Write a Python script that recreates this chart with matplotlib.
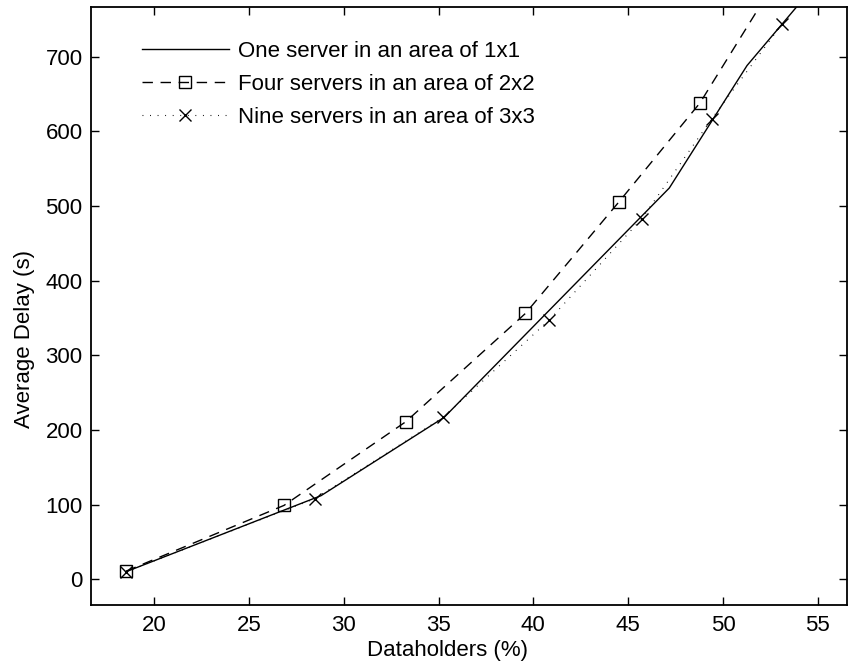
import matplotlib
matplotlib.use('Agg')
import matplotlib.pyplot as plt

plt.rcParams['font.family'] = ['Liberation Sans', 'DejaVu Sans']
plt.rcParams['font.size'] = 16

# Average delay vs. share of dataholders, one curve per server layout
one_x = [18.5, 28.8, 35.3, 47.17, 51.27, 55.0]
one_y = [10, 112, 217, 524, 688, 800]

four_x = [18.52, 26.85, 33.27, 39.58, 44.5, 48.79, 52.5]
four_y = [11, 99, 211, 356, 505, 638, 790]

nine_x = [18.5, 28.47, 35.25, 40.83, 45.72, 49.42, 53.13]
nine_y = [10, 108, 217, 347, 483, 617, 744]

labels = ['One server in an area of 1x1',
          'Four servers in an area of 2x2',
          'Nine servers in an area of 3x3']
xticks = [20, 25, 30, 35, 40, 45, 50, 55]
yticks = [0, 100, 200, 300, 400, 500, 600, 700]

fig = plt.figure(figsize=(8.48, 6.68), dpi=100)
ax = fig.add_axes([0.1073, 0.0936, 0.8917, 0.8955])

ax.plot(one_x, one_y, color='black', lw=1.0, label=labels[0])
l2, = ax.plot(four_x, four_y, color='black', lw=1.0, marker='s', ms=8.6,
              mfc='none', mew=1.0, label=labels[1])
l2.set_dashes((7.5, 5.5))
l3, = ax.plot(nine_x, nine_y, color='black', lw=0.8, marker='x', ms=8.6,
              mew=1.0, label=labels[2])
l3.set_dashes((0.8, 6))

ax.set_xlim(16.67, 56.55)
ax.set_ylim(-35, 766)
ax.set_xticks(xticks)
ax.set_yticks(yticks)
ax.tick_params(direction='in', length=6, width=1.0, top=True, right=True)
ax.tick_params(axis='x', pad=7)
ax.tick_params(axis='y', pad=6)
for s in ax.spines.values():
    s.set_linewidth(1.3)

ax.set_xlabel('Dataholders (%)')
ax.set_ylabel('Average Delay (s)')
ax.xaxis.set_label_coords(0.472, -0.058)
ax.yaxis.set_label_coords(-0.074, 0.446)

ax.legend(loc='upper left', bbox_to_anchor=(0.0675, 0.944), frameon=False,
          borderpad=0, borderaxespad=0, handlelength=3.9,
          handletextpad=0.4, labelspacing=0.54)

fig.savefig('out.png', dpi=100)
